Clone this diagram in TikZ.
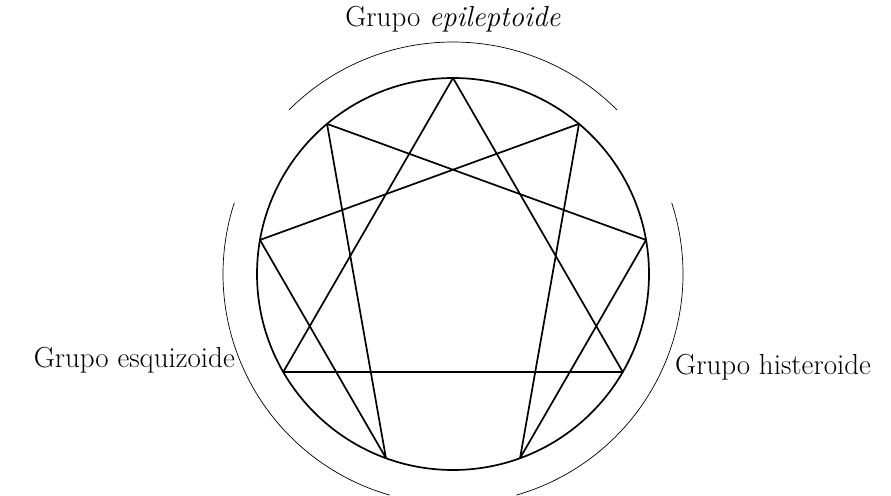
\documentclass[tikz,border=0pt]{standalone}
\usetikzlibrary{calc}
\begin{document}
\begin{tikzpicture}[x=1pt,y=1pt,
  figline/.style={line width=1.7pt, line join=round},
  groupArc/.style={line width=0.7pt},
  lbl/.style={font=\fontsize{29}{34}\selectfont, inner sep=0pt}]
\useasboundingbox (0,0) rectangle (891,495);
\coordinate (c) at (453,221);
\foreach \k in {0,...,8} {
  \coordinate (p\k) at ($(c)+({90-40*\k}:196)$);
}
\draw[figline] (c) circle (196);
% triangle 9-3-6
\draw[figline] (p0) -- (p3) -- (p6) -- cycle;
% hexad 1-4-2-8-5-7-1
\draw[figline] (p1) -- (p4) -- (p2) -- (p8) -- (p5) -- (p7) -- cycle;
% outer group arcs
\draw[groupArc] ($(c)+(45:232)$) arc[start angle=45, end angle=135, radius=232];
\draw[groupArc] ($(c)+(162:230)$) arc[start angle=162, end angle=254, radius=230];
\draw[groupArc] ($(c)+(18:230)$) arc[start angle=18, end angle=-74, radius=230];
% labels
\node[lbl, anchor=base] (top) at (453,468) {Grupo \textit{epileptoide}};
\node[lbl, anchor=base east] (left) at (235,127) {Grupo esquizoide};
\node[lbl, anchor=base west] (right) at (675,120) {Grupo histeroide};
\end{tikzpicture}
\end{document}
